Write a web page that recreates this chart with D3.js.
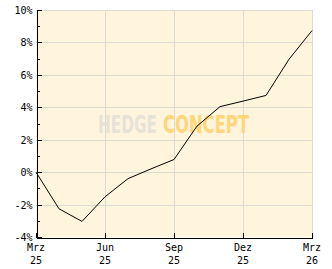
<!DOCTYPE html>
<html><head><meta charset="utf-8">
<script src="https://cdn.jsdelivr.net/npm/d3@7"></script>
<style>
html,body{margin:0;padding:0;background:#fff;}
svg{display:block;}
text{font-family:"DejaVu Sans Mono",monospace;font-size:10px;fill:#000;}
</style></head>
<body>
<svg id="c" width="332" height="269"></svg>
<script>
const months = ["Mrz 25","Apr 25","Mai 25","Jun 25","Jul 25","Aug 25","Sep 25","Okt 25","Nov 25","Dez 25","Jan 26","Feb 26","Mrz 26"];
const values = [0, -2.26, -3.04, -1.52, -0.40, 0.20, 0.78, 2.84, 4.04, 4.38, 4.73, 6.96, 8.73];
const xTickIndex = [0, 3, 6, 9, 12];
const xTickTop = ["Mrz","Jun","Sep","Dez","Mrz"];
const xTickBottom = ["25","25","25","25","26"];
const yMajor = [-4,-2,0,2,4,6,8,10];
const yMinor = [-3,-1,1,3,5,7,9];

const svg = d3.select("#c");
const L = 36, T = 10, R = 312, B = 237;
const x = d3.scaleLinear().domain([0, months.length - 1]).range([L, R]);
const y = d3.scaleLinear().domain([-4, 10]).range([B, T]);

// plot background
svg.append("rect").attr("x", L).attr("y", T).attr("width", R - L).attr("height", B - T).attr("fill", "#fff5dd");

// grid
const grid = svg.append("g").attr("stroke", "#dcdad4").attr("stroke-width", 1).attr("shape-rendering", "crispEdges");
grid.selectAll("line.h").data(yMajor.filter(v => v > -4)).enter().append("line")
  .attr("x1", L).attr("x2", R + 0.5).attr("y1", d => Math.round(y(d)) + 0.5).attr("y2", d => Math.round(y(d)) + 0.5);
grid.selectAll("line.v").data(xTickIndex.filter(v => v > 0)).enter().append("line")
  .attr("y1", T).attr("y2", B).attr("x1", d => Math.round(x(d)) + 0.5).attr("x2", d => Math.round(x(d)) + 0.5);

// watermark (scaled horizontally to fit)
function mark(str, x0, w, fill) {
  const g = svg.append("g");
  const t = g.append("text").attr("x", 0).attr("y", 0)
    .style("font-family", "'DejaVu Sans Condensed','Liberation Sans Narrow',sans-serif")
    .style("font-weight", "bold").style("font-size", "25px").style("fill", fill).text(str);
  const nat = t.node().getComputedTextLength();
  g.attr("transform", `translate(${x0},133) scale(${w / nat},1)`);
}
mark("HEDGE", 98, 59, "#e6e2d7");
mark("CONCEPT", 163, 86, "#ffd67a");

// line
const line = d3.line().x((d, i) => x(i)).y(d => y(d));
svg.append("path").datum(values).attr("d", line).attr("fill", "none").attr("stroke", "#000").attr("stroke-width", 1);

// y axis
const yAxis = svg.append("g").attr("transform", `translate(${L + 0.5},0)`)
  .call(d3.axisLeft(y).tickValues(yMajor).tickSizeInner(-5).tickSizeOuter(0).tickPadding(4).tickFormat(d => d + "%"));
const yAxisMinor = svg.append("g").attr("transform", `translate(${L + 0.5},0)`)
  .call(d3.axisLeft(y).tickValues(yMinor).tickSizeInner(-3).tickSizeOuter(0).tickFormat(""));
[yAxis, yAxisMinor].forEach(g => {
  g.attr("font-family", null).attr("font-size", null).attr("shape-rendering", "crispEdges");
  g.selectAll("text").attr("dy", "0.35em");
  g.selectAll(".domain").attr("stroke", "#000");
  g.selectAll(".tick line").attr("stroke", "#000");
});

// x axis
const xAxis = svg.append("g").attr("transform", `translate(0,${B + 0.5})`)
  .call(d3.axisBottom(x).tickValues(xTickIndex).tickSizeInner(-5).tickSizeOuter(0).tickFormat(""));
xAxis.attr("shape-rendering", "crispEdges");
xAxis.selectAll(".domain").attr("stroke", "#000");
xAxis.selectAll(".tick line").attr("stroke", "#000");

const xl = svg.append("g");
xl.selectAll("text.t").data(xTickIndex).enter().append("text")
  .attr("x", d => x(d)).attr("y", 251).attr("text-anchor", "middle").text((d, i) => xTickTop[i]);
xl.selectAll("text.b").data(xTickIndex).enter().append("text")
  .attr("x", d => x(d)).attr("y", 264).attr("text-anchor", "middle").text((d, i) => xTickBottom[i]);
</script>
</body></html>
